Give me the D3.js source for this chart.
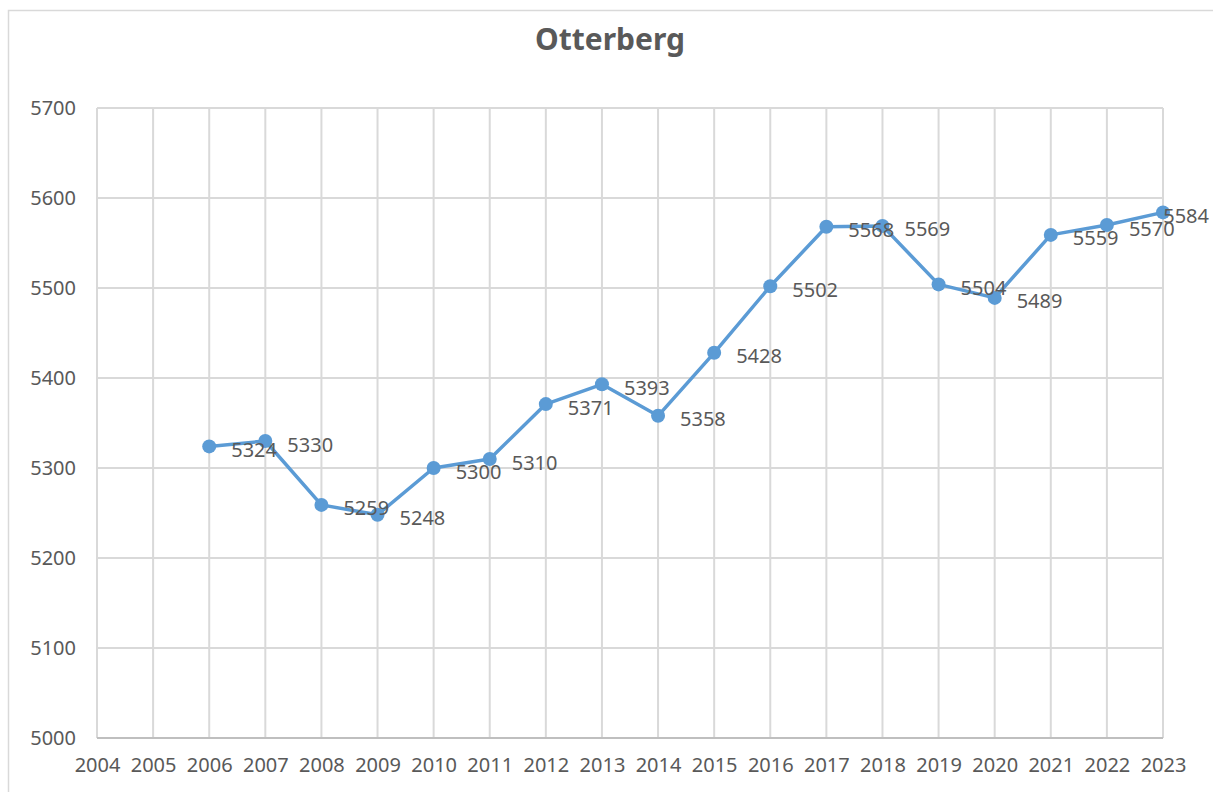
<!DOCTYPE html>
<html>
<head>
<meta charset="utf-8">
<title>Otterberg</title>
<script src="https://d3js.org/d3.v7.min.js"></script>
<style>
  body { margin: 0; background: #fff; }
  text { font-family: "Noto Sans", "Open Sans", sans-serif; fill: #595959; }
</style>
</head>
<body>
<div id="chart"></div>
<script>
const years = ["2004","2005","2006","2007","2008","2009","2010","2011","2012","2013",
               "2014","2015","2016","2017","2018","2019","2020","2021","2022","2023"];
const popYears = ["2006","2007","2008","2009","2010","2011","2012","2013","2014",
                  "2015","2016","2017","2018","2019","2020","2021","2022","2023"];
const population = [5324,5330,5259,5248,5300,5310,5371,5393,5358,
                    5428,5502,5568,5569,5504,5489,5559,5570,5584];
const yTicks = [5000,5100,5200,5300,5400,5500,5600,5700];

const W = 1213, H = 792;
const margin = {top: 108, right: 50, bottom: 54, left: 97};

const svg = d3.select("#chart").append("svg")
  .attr("width", W).attr("height", H);

// outer chart border (cropped at right and bottom)
svg.append("rect")
  .attr("x", 8.5).attr("y", 10.5)
  .attr("width", W + 20).attr("height", H + 20)
  .attr("fill", "none").attr("stroke", "#d9d9d9").attr("stroke-width", 1.5);

svg.append("text")
  .attr("x", 610).attr("y", 50)
  .attr("text-anchor", "middle")
  .style("font-size", "30px").style("font-weight", "bold")
  .text("Otterberg");

const x = d3.scalePoint().domain(years).range([margin.left, W - margin.right]);
const y = d3.scaleLinear().domain([5000, 5700]).range([H - margin.bottom, margin.top]);

// grid
const g = svg.append("g");
g.selectAll(".hgrid").data(yTicks).enter().append("line")
  .attr("x1", margin.left).attr("x2", W - margin.right)
  .attr("y1", d => y(d)).attr("y2", d => y(d))
  .attr("stroke", "#d9d9d9").attr("stroke-width", 2);
g.selectAll(".vgrid").data(years).enter().append("line")
  .attr("x1", d => x(d)).attr("x2", d => x(d))
  .attr("y1", margin.top).attr("y2", H - margin.bottom)
  .attr("stroke", "#d9d9d9").attr("stroke-width", 2);
// bottom axis line
g.append("line")
  .attr("x1", margin.left).attr("x2", W - margin.right)
  .attr("y1", y(5000)).attr("y2", y(5000))
  .attr("stroke", "#bfbfbf").attr("stroke-width", 2);

// axes
const yAxis = svg.append("g")
  .attr("transform", `translate(${margin.left},0)`)
  .call(d3.axisLeft(y).tickValues(yTicks).tickFormat(d3.format("d")).tickSize(0).tickPadding(21));
yAxis.select(".domain").remove();
yAxis.selectAll("text").style("font-size", "20px").attr("fill", "#595959");

const xAxis = svg.append("g")
  .attr("transform", `translate(0,${H - margin.bottom})`)
  .call(d3.axisBottom(x).tickSize(0).tickPadding(20));
xAxis.select(".domain").remove();
xAxis.selectAll("text").style("font-size", "20px").attr("fill", "#595959");

// series
const data = popYears.map((yr, i) => ({year: yr, value: population[i]}));
const line = d3.line().x(d => x(d.year)).y(d => y(d.value));
svg.append("path").datum(data)
  .attr("d", line)
  .attr("fill", "none").attr("stroke", "#5b9bd5").attr("stroke-width", 3.5)
  .attr("stroke-linejoin", "round");

svg.selectAll(".pt").data(data).enter().append("circle")
  .attr("cx", d => x(d.year)).attr("cy", d => y(d.value))
  .attr("r", 7).attr("fill", "#5b9bd5");

// data labels to the right; pulled back in if they would run off the edge
svg.selectAll(".lbl").data(data).enter().append("text")
  .attr("x", d => x(d.year) + 22).attr("y", d => y(d.value) + 3)
  .attr("dominant-baseline", "central")
  .style("font-size", "20px").attr("fill", "#404040")
  .text(d => d.value)
  .each(function () {
    const w = this.getComputedTextLength();
    const x0 = +this.getAttribute("x");
    if (x0 + w > W - 4) this.setAttribute("x", W - 4 - w);
  });
</script>
</body>
</html>
